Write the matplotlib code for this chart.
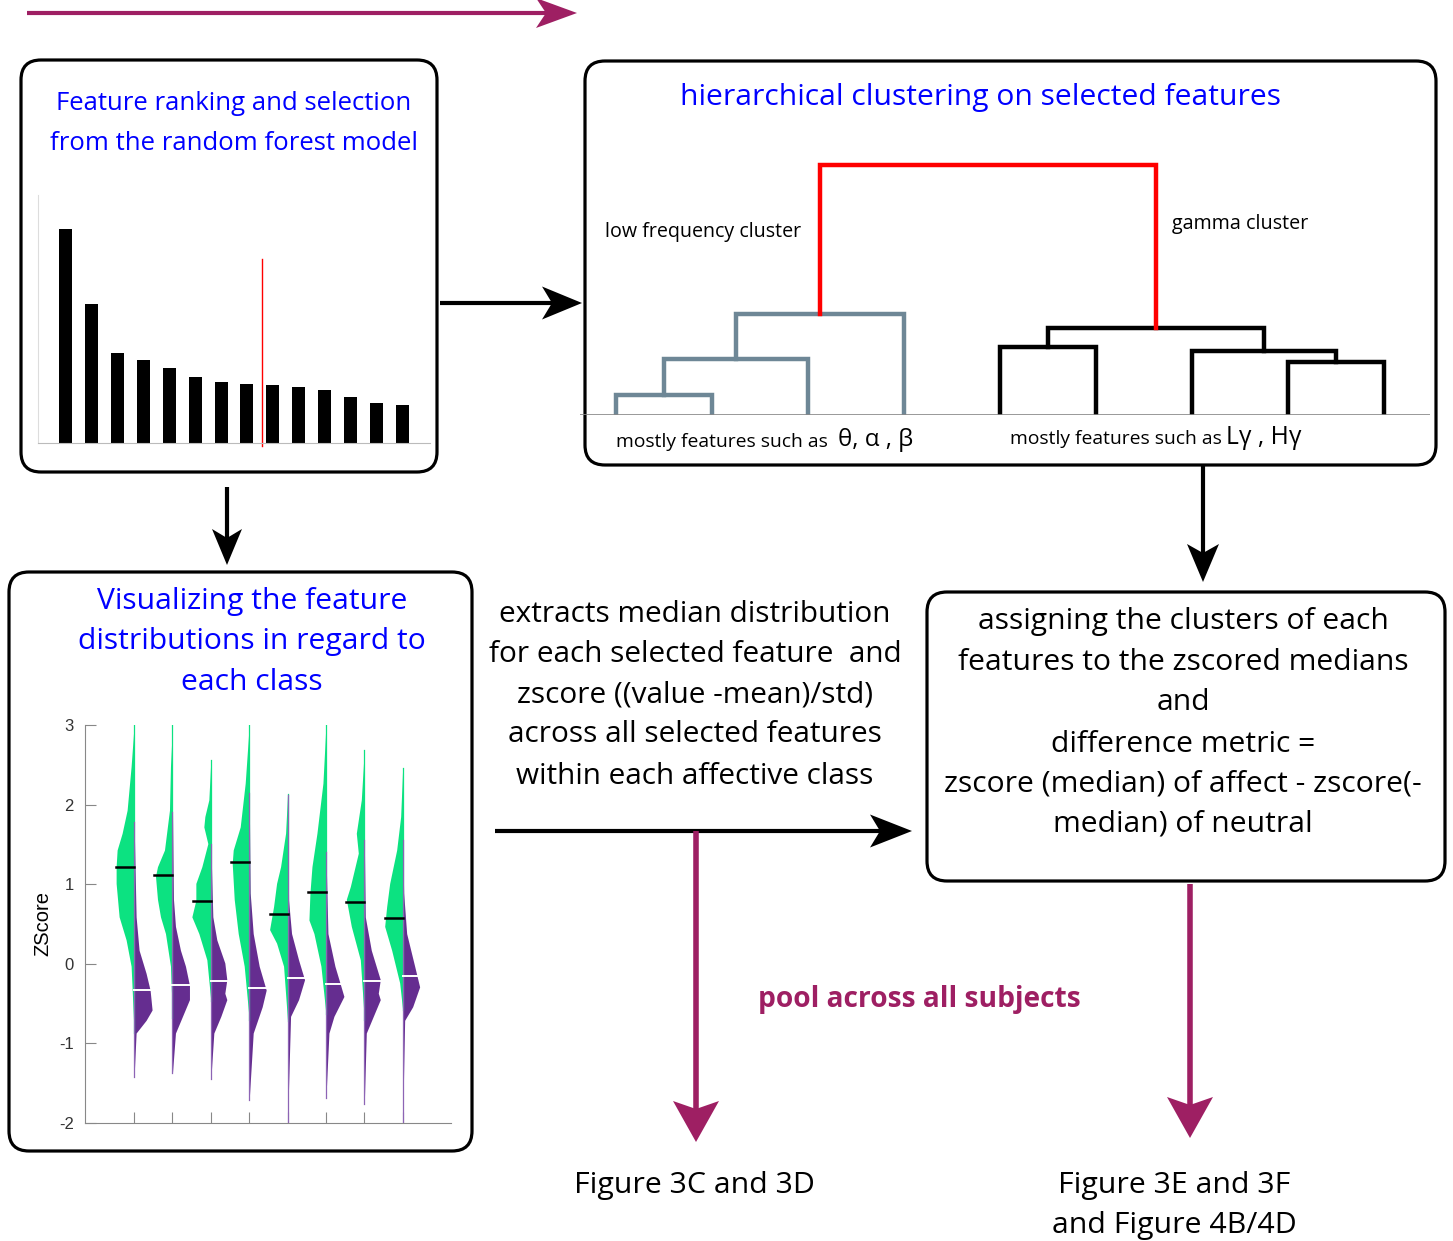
import matplotlib
matplotlib.use("Agg")
import matplotlib.pyplot as plt
import matplotlib.patches as mpatches
import numpy as np

W, H = 1453, 1241
MAGENTA = "#9E1F63"
BLUE = "#0000FF"
GREEN = "#0CE281"
PURPLE = "#652D90"
SLATE = "#6E8796"

# feature importance from the random forest (sorted)
importance = [21.4, 13.9, 9.0, 8.3, 7.5, 6.6, 6.1, 5.9, 5.8, 5.6, 5.3, 4.6, 4.0, 3.8]
cutoff = 8.58

# dendrogram: leaves 0..8, merges as (left node, right node, distance)
n_leaves = 9
merges = [
    (0, 1, 0.20),
    (9, 2, 0.56),
    (10, 3, 1.01),
    (4, 5, 0.68),
    (7, 8, 0.53),
    (6, 13, 0.64),
    (12, 14, 0.87),
    (11, 15, 2.50),
]
merge_colors = [SLATE, SLATE, SLATE, "black", "black", "black", "black", "red"]

# split violins: (zscore, density) outlines for affect and neutral classes
med_affect = [1.22, 1.11, 0.79, 1.28, 0.62, 0.90, 0.78, 0.58]
med_neutral = [-0.33, -0.27, -0.21, -0.31, -0.18, -0.26, -0.21, -0.15]
affect_profile = [
    [(3.0, 0), (2.48, 3), (1.93, 7), (1.64, 12), (1.43, 17), (1.22, 18), (1.01, 18), (0.59, 15), (0.30, 8), (-0.03, 3), (-0.87, 0)],
    [(3.0, 0), (2.48, 2), (1.93, 3), (1.43, 8), (1.22, 15), (1.10, 17), (0.81, 15), (0.59, 12), (0.38, 7), (-0.03, 2), (-0.68, 0)],
    [(2.56, 0), (2.06, 2), (1.85, 6), (1.72, 7), (1.51, 3), (1.22, 9), (1.01, 15), (0.80, 15), (0.59, 19), (0.38, 12), (0.05, 4), (-0.47, 0)],
    [(3.0, 0), (2.27, 4), (1.72, 9), (1.43, 16), (1.26, 17), (0.81, 15), (0.38, 11), (-0.03, 5), (-0.70, 0)],
    [(2.13, 0), (1.64, 2), (1.22, 7), (1.01, 11), (0.72, 14), (0.43, 18), (0.26, 11), (-0.03, 4), (-0.72, 0)],
    [(3.0, 0), (2.27, 3), (1.64, 9), (1.22, 14), (0.89, 16), (0.55, 17), (0.38, 12), (-0.03, 5), (-0.63, 0)],
    [(2.69, 0), (2.06, 3), (1.64, 8), (1.39, 6), (0.97, 14), (0.81, 18), (0.47, 13), (0.05, 4), (-0.70, 0)],
    [(2.46, 0), (1.85, 2), (1.43, 6), (1.01, 13), (0.72, 16), (0.47, 18), (0.17, 11), (-0.24, 3), (-0.58, 0)],
]
neutral_profile = [
    [(1.78, 0), (0.59, 2), (0.17, 5), (-0.12, 12), (-0.33, 16), (-0.58, 18), (-0.71, 12), (-0.87, 2), (-1.42, 0)],
    [(1.91, 0), (0.81, 1), (0.47, 3), (0.17, 8), (-0.03, 13), (-0.27, 17), (-0.45, 17), (-0.66, 10), (-0.87, 3), (-1.37, 0)],
    [(1.51, 0), (0.59, 2), (0.30, 6), (0.01, 14), (-0.20, 16), (-0.37, 14), (-0.45, 16), (-0.66, 10), (-0.87, 3), (-1.45, 0)],
    [(2.14, 0), (0.89, 1), (0.38, 4), (-0.03, 10), (-0.33, 17), (-0.54, 13), (-0.87, 4), (-1.71, 0)],
    [(2.12, 0), (0.80, 1), (0.38, 4), (0.05, 11), (-0.20, 17), (-0.45, 11), (-0.66, 3), (-2.0, 0)],
    [(1.41, 0), (0.38, 2), (-0.03, 9), (-0.24, 14), (-0.41, 18), (-0.66, 8), (-0.87, 3), (-1.69, 0)],
    [(1.56, 0), (0.59, 1), (0.17, 7), (-0.20, 16), (-0.37, 14), (-0.45, 16), (-0.66, 9), (-0.87, 2), (-1.76, 0)],
    [(1.56, 0), (0.89, 1), (0.38, 4), (-0.03, 12), (-0.29, 17), (-0.54, 10), (-0.71, 2), (-2.0, 0)],
]
zscore_ticks = [3, 2, 1, 0, -1, -2]

fig = plt.figure(figsize=(W / 100, H / 100), dpi=100)
ax = fig.add_axes([0, 0, 1, 1])
ax.set_xlim(0, W)
ax.set_ylim(H, 0)
ax.axis("off")
renderer = fig.canvas.get_renderer()


def px_axes(x0, y0, x1, y1):
    return fig.add_axes([x0 / W, 1 - y1 / H, (x1 - x0) / W, (y1 - y0) / H])


def box(x0, y0, x1, y1):
    ax.add_patch(mpatches.FancyBboxPatch((x0, y0), x1 - x0, y1 - y0,
                                         boxstyle="round,pad=0,rounding_size=20",
                                         fc="none", ec="black", lw=2.3))


def arrow(x0, y0, x1, y1, color, lw, hl, hw, notch):
    d = np.array([x1 - x0, y1 - y0], float)
    d /= np.hypot(*d)
    n = np.array([-d[1], d[0]])
    tip = np.array([x1, y1], float)
    back = tip - d * hl
    ax.plot([x0, back[0] + d[0] * notch], [y0, back[1] + d[1] * notch], color=color, lw=lw,
            solid_capstyle="butt")
    pts = [tip, back + n * hw / 2, back + d * notch, back - n * hw / 2]
    ax.add_patch(mpatches.Polygon(pts, closed=True, fc=color, ec="none"))


def text_block(cx, ys, lines, width, color="black", weight="normal", family="Open Sans",
               ha="center"):
    # lines share one size, scaled so the widest line spans `width` pixels
    texts = [ax.text(cx, y + 3, s, fontsize=20, color=color, ha=ha, va="center",
                     family=family, weight=weight) for s, y in zip(lines, ys)]
    widest = max(t.get_window_extent(renderer).width for t in texts)
    for t in texts:
        t.set_fontsize(20 * width / widest)
    return texts


# flow arrows
arrow(27, 13, 577, 13, MAGENTA, 3, 41, 30, 10)
arrow(440, 303, 582, 303, "black", 3, 40, 33, 10)
arrow(227, 487, 227, 565, "black", 3, 36, 30, 9)
arrow(495, 831, 912, 831, "black", 3, 42, 33, 10)
arrow(1203, 465, 1203, 582, "black", 3, 38, 32, 9)
arrow(696, 831, 696, 1142, MAGENTA, 4, 41, 46, 8)
arrow(1190, 884, 1190, 1138, MAGENTA, 4, 41, 46, 8)

box(21, 60, 437, 472)
box(585, 61, 1436, 465)
box(9, 572, 472, 1151)
box(927, 592, 1445, 881)

text_block(234, [101, 141], ["Feature ranking and selection", "from the random forest model"], 366, BLUE)
text_block(981, [95], ["hierarchical clustering on selected features"], 597, BLUE)
text_block(252, [598, 639, 680], ["Visualizing the feature", "distributions in regard to", "each class"], 347, BLUE)
text_block(695, [611, 651, 692, 732, 773],
           ["extracts median distribution", "for each selected feature  and",
            "zscore ((value -mean)/std)", "across all selected features",
            "within each affective class"], 412)
text_block(1183, [619, 659, 700, 741, 781, 821],
           ["assigning the clusters of each", "features to the zscored medians", "and",
            "difference metric =", "zscore (median) of affect - zscore(-",
            "median) of neutral"], 477)
text_block(919, [996], ["pool across all subjects"], 322, MAGENTA, weight="bold")
text_block(694, [1182], ["Figure 3C and 3D"], 240)
text_block(1174, [1182, 1222], ["Figure 3E and 3F", "and Figure 4B/4D"], 244)

# cluster labels around the dendrogram
text_block(605, [229], ["low frequency cluster"], 196, ha="left")
text_block(1172, [221], ["gamma cluster"], 136, ha="left")
text_block(616, [439], ["mostly features such as"], 211, ha="left")
text_block(838, [437], ["θ, α , β"], 75, ha="left")
text_block(1010, [436], ["mostly features such as"], 211, ha="left")
text_block(1226, [435], ["Lγ , Hγ"], 76, ha="left")

# importance bar chart
bx = px_axes(38, 195, 430, 443)
pos = np.arange(1, len(importance) + 1)
bx.bar(pos, importance, width=0.5, color="black")
bx.plot([cutoff, cutoff], [-0.3, 18.4], color="red", lw=1, clip_on=False)
bx.set_xlim(-0.08, 15.08)
bx.set_ylim(0, 24.8)
bx.set_xticks([])
bx.set_yticks([])
for s in ["top", "right"]:
    bx.spines[s].set_visible(False)
bx.spines["left"].set_color("#DDDDDD")
bx.spines["bottom"].set_color("#BBBBBB")
bx.patch.set_alpha(0)

# dendrogram
dx = px_axes(580, 140, 1430, 415)
node_x = list(range(n_leaves))
node_h = [0.0] * n_leaves
for (a, b, h), c in zip(merges, merge_colors):
    dx.plot([node_x[a], node_x[a], node_x[b], node_x[b]], [node_h[a], h, h, node_h[b]],
            color=c, lw=3.2, solid_joinstyle="miter")
    node_x.append((node_x[a] + node_x[b]) / 2)
    node_h.append(h)
dx.axhline(0, color="#888888", lw=1.2)
dx.set_xlim(-0.375, 8.48)
dx.set_ylim(0, 2.75)
dx.axis("off")

# split violin plot
vx = px_axes(85, 725, 451, 1123)
dens_scale = 1 / 38.4
for i in range(len(med_affect)):
    c = i + 1
    z, w = np.array(affect_profile[i]).T
    vx.fill_betweenx(z, c - w * dens_scale, c, color=GREEN, lw=0)
    vx.plot([c, c], [z.min(), z.max()], color=GREEN, lw=0.9)
    z, w = np.array(neutral_profile[i]).T
    vx.fill_betweenx(z, c, c + w * dens_scale, color=PURPLE, lw=0)
    vx.plot([c, c], [z.min(), z.max()], color="#8D64B5", lw=0.9)
    vx.plot([c - 0.47, c], [med_affect[i]] * 2, color="black", lw=1.8)
    vx.plot([c, c + 0.45], [med_neutral[i]] * 2, color="white", lw=1.4)
vx.set_xlim(-0.28, 9.26)
vx.set_ylim(-2, 3)
vx.set_xticks(range(1, 9))
vx.set_xticklabels([])
vx.set_yticks(zscore_ticks)
vx.set_yticklabels([str(t) for t in zscore_ticks], family="Liberation Sans", fontsize=12,
                   color="#333333")
vx.tick_params(direction="in", length=8, color="#888888", width=0.8)
vx.tick_params(axis="y", pad=8)
vx.set_ylabel("ZScore", family="Liberation Sans", fontsize=14.5, labelpad=5)
for s in ["top", "right"]:
    vx.spines[s].set_visible(False)
for s in ["left", "bottom"]:
    vx.spines[s].set_color("#888888")
    vx.spines[s].set_linewidth(0.8)
vx.patch.set_alpha(0)

fig.savefig("out.png", dpi=100)
